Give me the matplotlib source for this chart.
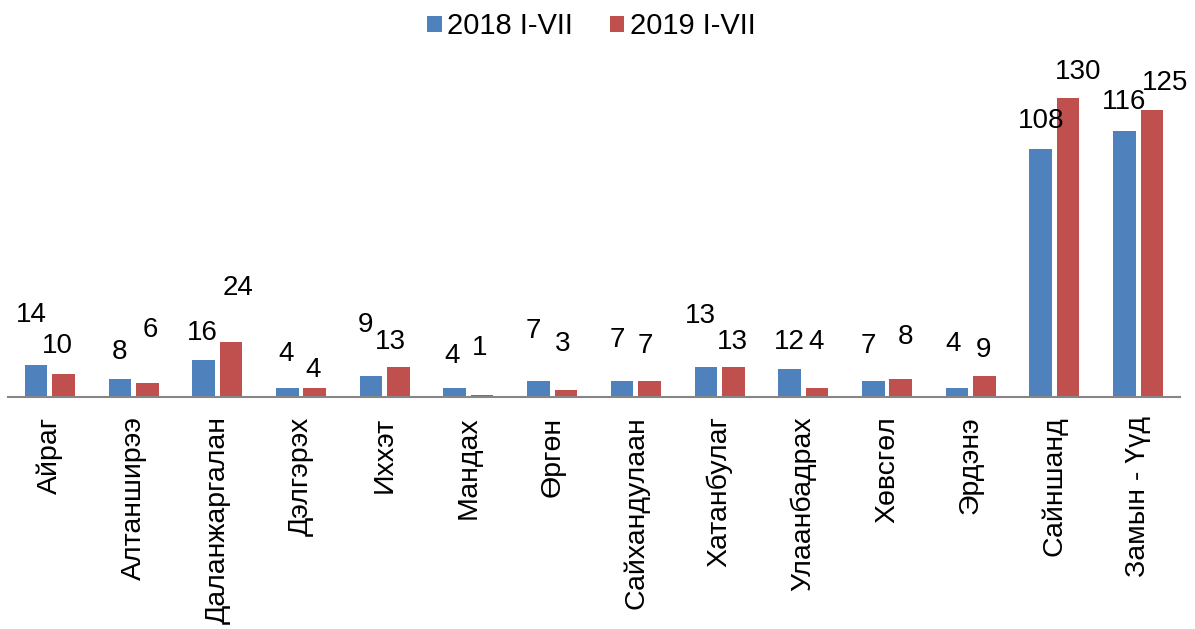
import numpy as np
import matplotlib.pyplot as plt

plt.rcParams['font.family'] = ['Liberation Sans', 'DejaVu Sans']

categories = ["Айраг", "Алтанширээ", "Даланжаргалан", "Дэлгэрэх", "Ихxэт",
              "Мандах", "Өргөн", "Сайхандулаан", "Хатанбулаг", "Улаанбадрах",
              "Хөвсгөл", "Эрдэнэ", "Сайншанд", "Замын - Үүд"]
v2018 = [14, 8, 16, 4, 9, 4, 7, 7, 13, 12, 7, 4, 108, 116]
v2019 = [10, 6, 24, 4, 13, 1, 3, 7, 13, 4, 8, 9, 130, 125]

# label offsets from bar top (pixels), imitating the hand-placed Excel labels
off2018 = [(-5, 50), (0, 27), (-1, 27), (-1, 34), (-5, 51), (-3, 32), (-5, 50),
           (-5, 41), (-5, 51), (0, 27), (-5, 35), (-4, 44), (0, 28), (0, 29)]
off2019 = [(-6, 28), (3, 53), (7, 54), (-2, 18), (-8, 25), (-3, 47), (-3, 46),
           (-4, 35), (-1, 25), (-1, 46), (5, 42), (-1, 26), (10, 26), (13, 27)]

blue = "#4F81BD"
red = "#C0504D"

fig = plt.figure(figsize=(11.95, 6.29), dpi=100, facecolor="white")
ax = fig.add_axes([8/1195, 232/629, 1172/1195, 0.535])

x = np.arange(len(categories))
w = 0.27
b1 = ax.bar(x - 0.164, v2018, w, color=blue, label="2018 I-VII")
b2 = ax.bar(x + 0.164, v2019, w, color=red, label="2019 I-VII")

for bars, vals, offs in [(b1, v2018, off2018), (b2, v2019, off2019)]:
    for b, v, (dx, dy) in zip(bars, vals, offs):
        ax.annotate(str(v), (b.get_x() + b.get_width()/2, b.get_height()),
                    xytext=(dx, dy), textcoords="offset pixels",
                    ha="center", va="center", fontsize=20)

ax.set_xlim(-0.5, len(categories) - 0.5)
ax.set_ylim(0, 146.5)
ax.set_xticks(x)
ax.set_xticklabels(categories, rotation=90, fontsize=20.5)
ax.tick_params(axis="x", length=0, pad=14)
ax.set_yticks([])
for s in ["top", "right", "left"]:
    ax.spines[s].set_visible(False)
ax.spines["bottom"].set_color("#868686")
ax.spines["bottom"].set_linewidth(1.5)

fig.legend(loc="upper center", bbox_to_anchor=(0.495, 1.022), ncol=2,
           frameon=False, fontsize=21, handlelength=0.5, handleheight=0.5,
           handletextpad=0.2, columnspacing=1.25)

fig.savefig("out.png", dpi=100)
